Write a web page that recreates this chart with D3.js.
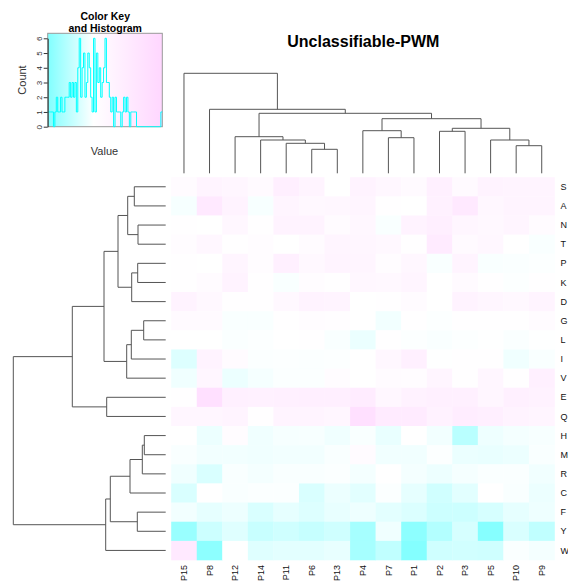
<!DOCTYPE html>
<html>
<head>
<meta charset="utf-8">
<script src="https://cdn.jsdelivr.net/npm/d3@7"></script>
<style>
body{margin:0;background:#fff}
svg{display:block;font-family:"Liberation Sans",Arial,sans-serif}
</style>
</head>
<body>
<div id="w"></div>
<script>
// rows / columns in dendrogram order
var rowNames = ["S","A","N","T","P","K","D","G","L","I","V","E","Q","H","M","R","C","F","Y","W"]
var colNames = ["P15","P8","P12","P14","P11","P6","P13","P4","P7","P1","P2","P3","P5","P10","P9"]

// cell values, one array per row, columns as colNames
var rowS = [0.15,0.4,0.33,0.2,0.6,0.4,0,0.45,0.28,0.2,0.55,0.2,0.45,0.4,0.42]
var rowA = [-0.07,0.8,0.45,-0.06,0.35,0.25,0.3,0.35,0.05,0,0.5,0.8,0.3,0.4,0.4]
var rowN = [0.02,0,0.3,0.05,0.45,0.45,0.15,0.3,-0.05,0.45,0.6,0.33,0.25,0.35,0.15]
var rowT = [0.1,0.3,0.05,0.1,0,0.15,0.35,0.33,0.25,0.02,0.75,0.2,0.3,0,-0.05]
var rowP = [0.05,0,0.35,0.1,0.55,0.25,0.4,0.35,0.1,0.3,-0.05,0.4,-0.05,-0.04,-0.02]
var rowK = [0.02,0.15,0.45,0.02,-0.05,0.1,0.02,0.3,0.25,0.35,0,0.2,0.03,-0.02,0.03]
var rowD = [0.45,0.25,0.03,0.05,0.25,0.45,0.4,0,0.05,0.15,0,0.45,0.33,0.25,0.4]
var rowG = [0.2,0.2,-0.05,-0.05,0.02,0.1,0.08,0,-0.1,0.03,-0.02,0.02,0.02,0.05,0.15]
var rowL = [0.01,0.01,-0.04,-0.02,0.01,0.02,-0.05,-0.16,0.02,-0.02,-0.05,-0.02,-0.01,-0.04,-0.01]
var rowI = [-0.27,0.45,0.15,-0.03,-0.02,-0.03,-0.02,0,0.3,0.55,-0.01,0.02,0.02,-0.12,-0.05]
var rowV = [-0.12,0.33,-0.15,-0.08,-0.03,-0.03,0.1,0,0.15,0.1,0.35,0.03,0.33,0.03,0.55]
var rowE = [0.02,1.15,0.55,0.5,0.55,0.6,0.6,0.7,0.3,0.47,0.55,0.55,0.33,0.55,0.47]
var rowQ = [0.33,0.33,0.4,0.03,0.4,0.4,0.33,1.15,0.75,0.75,0.47,0.65,0.6,0.45,0.35]
var rowH = [0,-0.15,0.1,-0.12,-0.07,-0.06,-0.12,-0.05,-0.17,0,-0.1,-0.55,-0.13,-0.09,-0.06]
var rowM = [-0.05,-0.1,-0.1,-0.12,-0.1,-0.1,-0.05,0.15,-0.11,-0.11,-0.02,-0.16,-0.17,-0.15,-0.05]
var rowR = [-0.12,-0.3,-0.05,-0.09,-0.05,-0.05,-0.03,-0.09,0,-0.09,-0.14,-0.08,-0.04,-0.04,-0.11]
var rowC = [-0.3,0.01,-0.05,-0.03,-0.03,-0.3,-0.15,-0.23,-0.03,-0.2,-0.37,-0.23,0,-0.05,-0.15]
var rowF = [-0.1,-0.2,-0.14,-0.3,-0.2,-0.27,-0.18,-0.13,-0.22,-0.28,-0.4,-0.4,-0.32,-0.2,-0.13]
var rowY = [-0.8,-0.4,-0.25,-0.43,-0.38,-0.45,-0.38,-0.7,-0.12,-0.9,-0.6,-0.32,-0.95,-0.3,-0.5]
var rowW = [0.8,-0.9,0,-0.25,-0.22,-0.22,-0.18,-0.7,-0.5,-0.97,-0.38,-0.36,-0.38,-0.04,-0.09]
var values = [rowS,rowA,rowN,rowT,rowP,rowK,rowD,rowG,rowL,rowI,rowV,rowE,rowQ,rowH,rowM,rowR,rowC,rowF,rowY,rowW]

// histogram of the colour key (counts per bin, left to right)
var histCounts = [1,1,1,1,0,1,2,1,1,2,1,1,2,2,2,3,2,3,2,3,
                  1,4,6,2,4,5,2,3,5,4,2,1,6,1,5,3,4,2,3,4,
                  6,3,3,2,1,2,0,2,1,1,1,0,1,2,1,2,1,0,1,1,
                  1,1,0,0,0,0,0,0,0,0,0,0,0,0,0,0,0,0,0,1]
var countTicks = [0,1,2,3,4,5,6]
var keyRange = [-1, 1.5]

// dendrograms: [height, left, right], leaves are names
var colTree = [100, "P15", [64, "P8", [60,
  [36.6, "P12", [33.3, "P14", [30, "P11", [24, "P6", "P13"]]]],
  [54.6, [42.6, "P4", [35.6, "P7", "P1"]],
         [45, [42, "P2", "P3"], [33.3, "P5", [27.6, "P10", "P9"]]]]]]]
var rowTree = [152.4,
  [93.4,
    [61.7,
      [47.7, [38, [31.4, "S", "A"], [27.7, "N", "T"]], [34, [28, "P", "K"], "D"]],
      [39, [34.4, [22, "G", "L"], "I"], "V"]],
    [59, "E", "Q"]],
  [60, [55.4, [35.7, [23.4, [21.4, "H", "M"], "R"], "C"], [28.4, "F", "Y"]], "W"]]

var W = 568, H = 584
var svg = d3.select("#w").append("svg").attr("width", W).attr("height", H)

var hmL = 171.2, hmR = 554.5, hmT = 177.2, hmB = 560
var x = d3.scaleBand().domain(colNames).range([hmL, hmR])
var y = d3.scaleBand().domain(rowNames).range([hmT, hmB])
var color = d3.scaleLinear().domain([-1, 0, 1.5]).range(["#80ffff", "#ffffff", "#ffd6ff"]).clamp(true)

// heatmap cells
var cells = []
values.forEach(function(r, i) {
  r.forEach(function(v, j) { cells.push({row: rowNames[i], col: colNames[j], v: v}) })
})
svg.append("g").selectAll("rect").data(cells).enter().append("rect")
  .attr("x", d => x(d.col)).attr("y", d => y(d.row))
  .attr("width", x.bandwidth() + 0.3).attr("height", y.bandwidth() + 0.3)
  .attr("fill", d => color(d.v))

// labels
svg.append("g").selectAll("text").data(rowNames).enter().append("text")
  .attr("x", hmR + 6).attr("y", d => y(d) + y.bandwidth() / 2)
  .attr("dy", "0.35em").attr("font-size", 9).attr("fill", "#111").text(d => d)
svg.append("g").selectAll("text").data(colNames).enter().append("text")
  .attr("transform", d => "translate(" + (x(d) + x.bandwidth() / 2) + "," + (hmB + 5) + ") rotate(-90)")
  .attr("dy", "0.35em").attr("text-anchor", "end").attr("font-size", 9).attr("fill", "#111").text(d => d)

// dendrograms
function drawTree(g, node, pos, hs, vertical) {
  if (typeof node === "string") return {p: pos(node) + pos.bandwidth() / 2, h: 0}
  var a = drawTree(g, node[1], pos, hs, vertical)
  var b = drawTree(g, node[2], pos, hs, vertical)
  var pts = [[a.p, a.h], [a.p, node[0]], [b.p, node[0]], [b.p, b.h]]
  g.append("path")
    .attr("d", d3.line().x(d => vertical ? d[0] : hs(d[1])).y(d => vertical ? hs(d[1]) : d[0])(pts))
    .attr("fill", "none").attr("stroke", "#555").attr("stroke-width", 1)
  return {p: (a.p + b.p) / 2, h: node[0]}
}
var colH = d3.scaleLinear().domain([0, colTree[0]]).range([173.3, 73.3])
drawTree(svg.append("g"), colTree, x, colH, true)
var rowH = d3.scaleLinear().domain([0, rowTree[0]]).range([165.7, 13.3])
drawTree(svg.append("g"), rowTree, y, rowH, false)

// title
svg.append("text").attr("x", 363.3).attr("y", 46.7).attr("text-anchor", "middle")
  .attr("font-size", 16).attr("font-weight", "bold").text("Unclassifiable-PWM")

// colour key
var kx = d3.scaleLinear().domain(keyRange).range([47.7, 162.3])
var ky = d3.scaleLinear().domain([0, 6]).range([126.7, 38.3])
var grad = svg.append("defs").append("linearGradient").attr("id", "kg")
color.domain().forEach(function(v, i) {
  grad.append("stop").attr("offset", (v - keyRange[0]) / (keyRange[1] - keyRange[0]))
    .attr("stop-color", color.range()[i])
})
svg.append("rect").attr("x", kx(keyRange[0])).attr("y", 33.3)
  .attr("width", kx(keyRange[1]) - kx(keyRange[0])).attr("height", 126.7 - 33.3)
  .attr("fill", "url(#kg)").attr("stroke", "#999").attr("stroke-width", 1)

var bw = (keyRange[1] - keyRange[0]) / histCounts.length
var steps = histCounts.map((c, i) => [keyRange[0] + i * bw, c])
steps.push([keyRange[1], histCounts[histCounts.length - 1]])
svg.append("path")
  .attr("d", d3.line().curve(d3.curveStepAfter).x(d => kx(d[0])).y(d => ky(d[1]))(steps))
  .attr("fill", "none").attr("stroke", "#00ffff").attr("stroke-width", 1)

var ax = svg.append("g").attr("transform", "translate(47.7,0)")
  .call(d3.axisLeft(ky).tickValues(countTicks).tickFormat(d3.format("d")).tickSize(4).tickSizeOuter(0))
ax.select(".domain").attr("stroke", "#333")
ax.selectAll("line").attr("stroke", "#333")
ax.selectAll("text").attr("transform", "rotate(-90)").attr("x", 0).attr("y", -6).attr("dy", 0)
  .attr("text-anchor", "middle").attr("font-size", 8).attr("fill", "#333")
  .attr("font-family", "Liberation Sans, Arial, sans-serif")

svg.append("text").attr("transform", "translate(26,80) rotate(-90)").attr("text-anchor", "middle")
  .attr("font-size", 11).attr("fill", "#333").text("Count")
svg.append("text").attr("x", 104.5).attr("y", 155).attr("text-anchor", "middle")
  .attr("font-size", 11).attr("fill", "#333").text("Value")
svg.append("text").attr("x", 105.2).attr("y", 19.5).attr("text-anchor", "middle")
  .attr("font-size", 10.5).attr("font-weight", "bold").text("Color Key")
svg.append("text").attr("x", 105.2).attr("y", 31.5).attr("text-anchor", "middle")
  .attr("font-size", 10.5).attr("font-weight", "bold").text("and Histogram")
</script>
</body>
</html>
